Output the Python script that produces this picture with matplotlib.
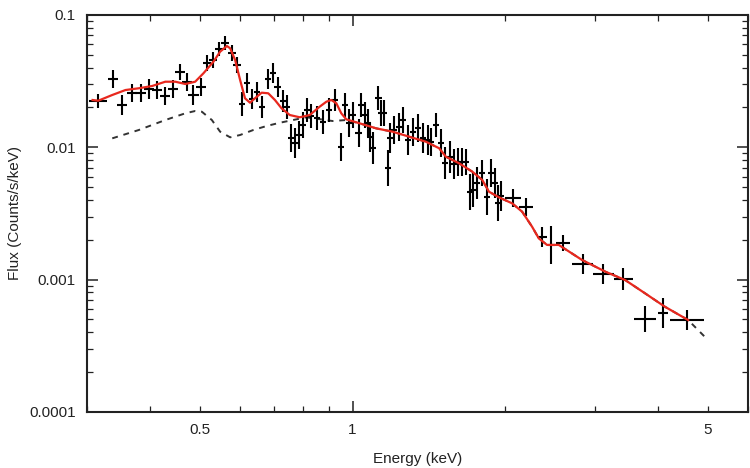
import numpy as np
import matplotlib
matplotlib.use("Agg")
import matplotlib.pyplot as plt
from matplotlib.ticker import FixedLocator, FixedFormatter, NullFormatter

plt.rcParams['font.family'] = ['Liberation Sans', 'DejaVu Sans']

# observed spectrum (keV, counts/s/keV), errors given as half-widths in dex
energy = [0.3157, 0.3369, 0.3520, 0.3683, 0.3824, 0.3981, 0.4123, 0.4266, 0.4423, 0.4579,
          0.4720, 0.4862, 0.5027, 0.5165, 0.5310, 0.5468, 0.5610, 0.5783, 0.5916, 0.6067,
          0.6205, 0.6346, 0.6492, 0.6641, 0.6823, 0.6960, 0.7117, 0.7303, 0.7434, 0.7556,
          0.7694, 0.7836, 0.7990, 0.8136, 0.8299, 0.8511, 0.8745, 0.8975, 0.9220, 0.9502,
          0.9645, 0.9834, 1.0014, 1.0275, 1.0401, 1.0557, 1.0715, 1.0832, 1.0959, 1.1246,
          1.1384, 1.1553, 1.1728, 1.1856, 1.2089, 1.2365, 1.2549, 1.2836, 1.3129, 1.3428,
          1.3735, 1.4048, 1.4267, 1.4593, 1.4926, 1.5220, 1.5546, 1.5849, 1.6159, 1.6455,
          1.6707, 1.7014, 1.7270, 1.7607, 1.8009, 1.8420, 1.8755, 1.9073, 1.9360, 1.9623,
          2.0691, 2.1965, 2.3613, 2.4640, 2.5927, 2.8379, 3.1197, 3.4152, 3.7668, 4.0905,
          4.5590]
flux = [0.02250, 0.03283, 0.02088, 0.02573, 0.02573, 0.02759, 0.02710, 0.02442, 0.02759, 0.03709,
        0.03115, 0.02485, 0.02856, 0.04338, 0.04570, 0.05534, 0.06174, 0.05188, 0.04189, 0.02125,
        0.03062, 0.02317, 0.02633, 0.02017, 0.03283, 0.03645, 0.02856, 0.02250, 0.02017, 0.01176,
        0.01083, 0.01239, 0.01474, 0.01913, 0.01724, 0.01665, 0.01561, 0.01913, 0.02278, 0.01010,
        0.02088, 0.01527, 0.01754, 0.01283, 0.02088, 0.01754, 0.01527, 0.01202, 0.00988, 0.02359,
        0.01817, 0.01817, 0.00701, 0.01176, 0.01351, 0.01431, 0.01608, 0.01136, 0.01312, 0.01391,
        0.01176, 0.01136, 0.01102, 0.01474, 0.01072, 0.00765, 0.00849, 0.00748, 0.00778, 0.00778,
        0.00778, 0.00462, 0.00476, 0.00534, 0.00636, 0.00419, 0.00643, 0.00540, 0.00381, 0.00428,
        0.00412, 0.00356, 0.00209, 0.00183, 0.00190, 0.00131, 0.00110, 0.00101, 0.000501, 0.000556,
        0.000495]
energy_err_dex = [0.018, 0.010, 0.010, 0.010, 0.010, 0.010, 0.010, 0.010, 0.010, 0.010,
                  0.010, 0.010, 0.010, 0.008, 0.008, 0.008, 0.008, 0.008, 0.008, 0.006,
                  0.006, 0.006, 0.006, 0.006, 0.006, 0.006, 0.006, 0.006, 0.006, 0.006,
                  0.006, 0.006, 0.006, 0.006, 0.006, 0.006, 0.006, 0.006, 0.006, 0.006,
                  0.006, 0.006, 0.006, 0.006, 0.006, 0.006, 0.006, 0.006, 0.006, 0.006,
                  0.006, 0.006, 0.006, 0.006, 0.006, 0.006, 0.006, 0.006, 0.006, 0.006,
                  0.006, 0.006, 0.006, 0.006, 0.006, 0.006, 0.006, 0.006, 0.006, 0.006,
                  0.006, 0.006, 0.006, 0.006, 0.006, 0.006, 0.006, 0.006, 0.006, 0.006,
                  0.016, 0.014, 0.010, 0.006, 0.014, 0.020, 0.020, 0.018, 0.022, 0.010,
                  0.033]
flux_err_dex = [0.053, 0.068, 0.076, 0.068, 0.068, 0.076, 0.068, 0.068, 0.068, 0.060,
                0.068, 0.076, 0.068, 0.060, 0.060, 0.053, 0.053, 0.060, 0.060, 0.091,
                0.076, 0.076, 0.076, 0.083, 0.076, 0.076, 0.076, 0.083, 0.091, 0.106,
                0.113, 0.106, 0.098, 0.091, 0.091, 0.091, 0.091, 0.091, 0.083, 0.106,
                0.091, 0.106, 0.098, 0.106, 0.091, 0.098, 0.106, 0.113, 0.121, 0.091,
                0.098, 0.098, 0.136, 0.113, 0.106, 0.106, 0.098, 0.113, 0.106, 0.106,
                0.113, 0.113, 0.106, 0.091, 0.106, 0.121, 0.121, 0.113, 0.106, 0.106,
                0.098, 0.136, 0.128, 0.121, 0.098, 0.136, 0.106, 0.113, 0.136, 0.113,
                0.068, 0.068, 0.076, 0.144, 0.060, 0.076, 0.076, 0.083, 0.098, 0.113,
                0.076]

# best-fit model (red) and continuum component (dashed)
model_energy = [0.3077, 0.3157, 0.3364, 0.3572, 0.3793, 0.4030, 0.4279, 0.4477, 0.4685, 0.4899,
                0.5086, 0.5322, 0.5486, 0.5657, 0.5741, 0.5872, 0.6006, 0.6141, 0.6282, 0.6424,
                0.6622, 0.6823, 0.7033, 0.7247, 0.7523, 0.7870, 0.8235, 0.8616, 0.8881, 0.9083,
                0.9291, 0.9502, 0.9719, 1.0321, 1.1128, 1.1995, 1.2935, 1.3947, 1.4813, 1.5266,
                1.6212, 1.7215, 1.8009, 1.8561, 1.9414, 2.0624, 2.1576, 2.2571, 2.3266, 2.4149,
                2.5468, 2.8291, 3.1444, 3.4420, 3.7668, 4.1215, 4.5799]
model_flux = [0.02278, 0.02250, 0.02485, 0.02710, 0.02793, 0.02906, 0.03131, 0.03131, 0.03009, 0.03131,
              0.03625, 0.04436, 0.05280, 0.05830, 0.05600, 0.04570, 0.03227, 0.02346, 0.02173, 0.02346,
              0.02587, 0.02560, 0.02278, 0.01972, 0.01754, 0.01686, 0.01754, 0.02028, 0.02211, 0.02278,
              0.02151, 0.01807, 0.01628, 0.01519, 0.01391, 0.01312, 0.01202, 0.01102, 0.00983, 0.00849,
              0.00757, 0.00654, 0.00566, 0.00462, 0.00419, 0.00377, 0.00326, 0.00251, 0.00205, 0.00183,
              0.00183, 0.00141, 0.00115, 0.000993, 0.000788, 0.000624, 0.000495]
cont_energy = [0.3364, 0.3793, 0.4279, 0.4685, 0.4899, 0.5049, 0.5284, 0.5486, 0.5741, 0.6006,
               0.6375, 0.6773, 0.7194, 0.7637, 0.8113, 0.9137, 0.9719, 1.0321, 1.1128, 1.1995,
               1.2935, 1.3947, 1.4813, 1.5266, 1.6212, 1.7215, 1.8009, 1.8561, 1.9414, 2.0624,
               2.1576, 2.2571, 2.3266, 2.4149, 2.5468, 2.8291, 3.1444, 3.4420, 3.7668, 4.1215,
               4.5799, 4.9376]
cont_flux = [0.01169, 0.01351, 0.01608, 0.01807, 0.01881, 0.01858, 0.01608, 0.01312, 0.01190, 0.01239,
             0.01351, 0.01449, 0.01534, 0.01608, 0.01686, 0.01580, 0.01608, 0.01519, 0.01391, 0.01312,
             0.01202, 0.01102, 0.00983, 0.00849, 0.00757, 0.00654, 0.00566, 0.00462, 0.00419, 0.00377,
             0.00326, 0.00251, 0.00205, 0.00183, 0.00183, 0.00141, 0.00115, 0.000993, 0.000788, 0.000624,
             0.000495, 0.000370]

E = np.array(energy)
F = np.array(flux)
ex = np.array(energy_err_dex)
fy = np.array(flux_err_dex)
xerr = [E * (1 - 10**-ex), E * (10**ex - 1)]
yerr = [F * (1 - 10**-fy), F * (10**fy - 1)]

fig = plt.figure(figsize=(7.5, 4.68), dpi=100)
ax = fig.add_axes([0.116, 0.1197, 0.881, 0.8483])

ax.plot(cont_energy, cont_flux, color='#333333', lw=1.4, ls=(0, (3, 3)), zorder=2)
ax.errorbar(E, F, xerr=xerr, yerr=yerr, fmt='none', ecolor='black', elinewidth=1.5, capsize=0, zorder=3)
ax.plot(model_energy, model_flux, color='#e8281e', lw=1.6, zorder=4)

ax.set_xscale('log')
ax.set_yscale('log')
ax.set_xlim(0.3, 6.0)
ax.set_ylim(1e-4, 0.1)

ax.xaxis.set_major_locator(FixedLocator([1]))
ax.xaxis.set_major_formatter(FixedFormatter(['1']))
minor_x = [0.3, 0.4, 0.5, 0.6, 0.7, 0.8, 0.9, 2, 3, 4, 5, 6]
ax.xaxis.set_minor_locator(FixedLocator(minor_x))
ax.xaxis.set_minor_formatter(FixedFormatter(['' if v not in (0.5, 5) else str(v) for v in minor_x]))

ax.set_yticks([1e-4, 1e-3, 1e-2, 1e-1])
ax.set_yticklabels(['0.0001', '0.001', '0.01', '0.1'])
ax.yaxis.set_minor_formatter(NullFormatter())

ax.tick_params(which='both', direction='in', top=True, right=True, labelsize=11, colors='#222222')
ax.tick_params(which='major', length=8, width=1.1, pad=8)
ax.tick_params(which='minor', length=4, width=0.9, pad=8)
for s in ax.spines.values():
    s.set_linewidth(1.5)
    s.set_color('#222222')

ax.set_xlabel('Energy (keV)', fontsize=11, labelpad=11, color='#222222')
ax.set_ylabel('Flux (Counts/s/keV)', fontsize=11, labelpad=5, color='#222222')

fig.savefig('out.png', dpi=100)
